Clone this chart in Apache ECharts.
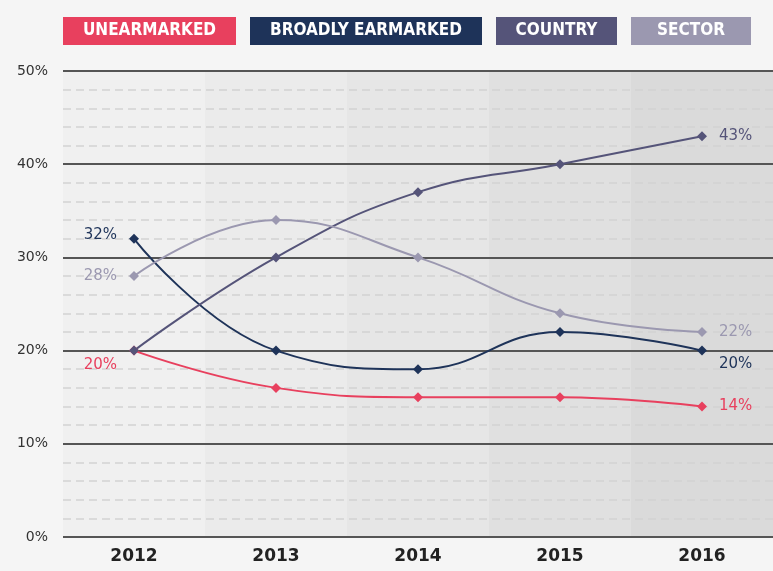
<!DOCTYPE html>
<html>
<head>
<meta charset="utf-8">
<script src="https://cdn.jsdelivr.net/npm/echarts@6/dist/echarts.min.js"></script>
<style>
html,body{margin:0;padding:0;background:#f5f5f5;}
#chart{width:773px;height:571px;}
</style>
</head>
<body>
<div id="chart"></div>
<script>
var categories = ['2012', '2013', '2014', '2015', '2016'];
var seriesNames = ['UNEARMARKED', 'BROADLY EARMARKED', 'COUNTRY', 'SECTOR'];
var unearmarked = [20, 16, 15, 15, 14];
var broadlyEarmarked = [32, 20, 18, 22, 20];
var country = [20, 30, 37, 40, 43];
var sector = [28, 34, 30, 24, 22];

var colors = ['#e8405e', '#1e3359', '#555479', '#9b98b0'];
var legendWidths = [173, 232, 121, 120];
var bandColors = ['#f0f0f0', '#ebebeb', '#e6e6e6', '#e0e0e0', '#dadada'];

var FONT_C = '"DejaVu Sans Condensed", "Liberation Sans Narrow", sans-serif';
var FONT = '"DejaVu Sans", "Liberation Sans", sans-serif';

function withEndLabels(arr, color, firstPos, lastPos, fo, lo) {
  return arr.map(function (v, i) {
    var item = { value: v };
    if (i === 0 && firstPos) {
      item.label = { show: true, position: firstPos, offset: fo || [0, 0], color: color };
    } else if (i === arr.length - 1 && lastPos) {
      item.label = { show: true, position: lastPos, offset: lo || [0, 0], color: color };
    }
    return item;
  });
}

function makeSeries(name, arr, color, firstPos, lastPos, fo, lo) {
  return {
    name: name,
    type: 'line',
    z: 5,
    data: withEndLabels(arr, color, firstPos, lastPos, fo, lo),
    smooth: 0.45,
    symbol: 'diamond',
    symbolSize: 10,
    lineStyle: { width: 2, color: color },
    itemStyle: { color: color },
    label: {
      show: false,
      formatter: '{c}%',
      fontFamily: FONT,
      fontSize: 15,
      distance: 12
    }
  };
}

var rich = {};
seriesNames.forEach(function (n, i) {
  rich['s' + i] = {
    color: '#ffffff',
    backgroundColor: colors[i],
    width: legendWidths[i],
    height: 28,
    lineHeight: 28,
    align: 'center',
    fontFamily: FONT_C,
    fontWeight: 'bold',
    fontSize: 17
  };
});

var chart = echarts.init(document.getElementById('chart'));
chart.setOption({
  backgroundColor: '#f5f5f5',
  animation: false,
  color: colors,
  legend: {
    top: 12,
    left: 53,
    width: 740,
    itemGap: 9,
    icon: 'none',
    itemWidth: 0,
    itemHeight: 0,
    selectedMode: false,
    data: seriesNames,
    formatter: function (name) {
      return '{s' + seriesNames.indexOf(name) + '|' + name + '}';
    },
    textStyle: { rich: rich }
  },
  grid: { left: 63, right: 0, top: 71, bottom: 34 },
  xAxis: {
    type: 'category',
    data: categories,
    boundaryGap: true,
    z: 0,
    axisLine: { show: false },
    axisTick: { show: false },
    axisLabel: { color: '#222', fontWeight: 'bold', fontSize: 17, fontFamily: FONT, margin: 11 },
    splitArea: { show: true, areaStyle: { color: bandColors } }
  },
  yAxis: {
    type: 'value',
    min: 0,
    max: 50,
    interval: 10,
    z: 2,
    axisLine: { show: false },
    axisTick: { show: false },
    axisLabel: { color: '#333', fontSize: 14, fontFamily: FONT, margin: 15, formatter: '{value}%' },
    splitLine: { show: true, lineStyle: { color: '#555', width: 2 } },
    minorTick: { show: false, splitNumber: 5 },
    minorSplitLine: { show: true, lineStyle: { color: '#d2d2d2', width: 1.5, type: [8, 5] } }
  },
  series: [
    makeSeries(seriesNames[0], unearmarked, colors[0], 'left', 'right', [0, 15], [0, 0]),
    makeSeries(seriesNames[1], broadlyEarmarked, colors[1], 'left', 'right', [0, -4], [0, 14]),
    makeSeries(seriesNames[2], country, colors[2], null, 'right', null, [0, 0]),
    makeSeries(seriesNames[3], sector, colors[3], 'left', 'right', [0, 0], [0, 0])
  ]
});
</script>
</body>
</html>
